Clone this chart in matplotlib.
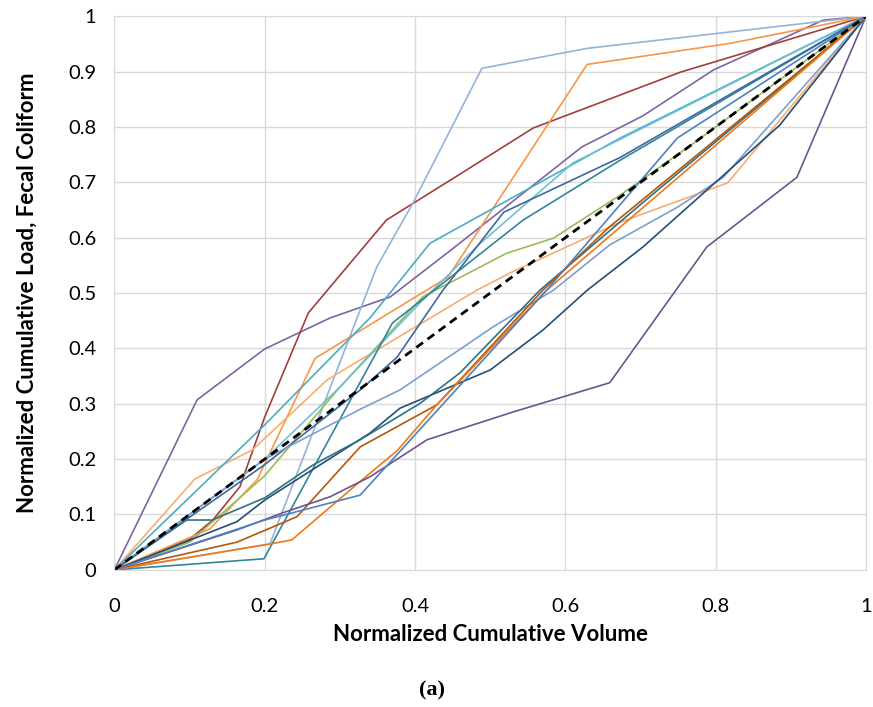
import matplotlib
matplotlib.use("Agg")
import matplotlib.pyplot as plt

plt.rcParams["font.family"] = ["Lato", "DejaVu Sans"]

# normalized cumulative volume / load, one pair per storm event
x_purple_a = [0, 0.11, 0.2, 0.287, 0.367, 0.45, 0.622, 0.703, 0.797, 0.943, 1]
y_purple_a = [0, 0.307, 0.399, 0.455, 0.493, 0.58, 0.764, 0.82, 0.903, 0.993, 1]

x_red = [0, 0.1, 0.131, 0.167, 0.2, 0.258, 0.362, 0.46, 0.557, 0.753, 1]
y_red = [0, 0.055, 0.09, 0.15, 0.276, 0.464, 0.632, 0.715, 0.798, 0.899, 1]

x_lightblue = [0, 0.207, 0.349, 0.397, 0.489, 0.629, 0.802, 1]
y_lightblue = [0, 0.047, 0.547, 0.662, 0.906, 0.942, 0.969, 1]

x_orange_a = [0, 0.127, 0.19, 0.267, 0.444, 0.629, 0.819, 1]
y_orange_a = [0, 0.074, 0.163, 0.382, 0.529, 0.913, 0.951, 1]

x_lightorange = [0, 0.107, 0.184, 0.283, 0.327, 0.482, 0.526, 0.673, 0.816, 1]
y_lightorange = [0, 0.164, 0.217, 0.343, 0.379, 0.505, 0.536, 0.628, 0.699, 1]

x_green = [0, 0.1, 0.2, 0.3, 0.41, 0.522, 0.584, 0.673, 0.77, 1]
y_green = [0, 0.05, 0.17, 0.33, 0.493, 0.572, 0.599, 0.677, 0.77, 1]

x_aqua_a = [0, 0.2, 0.34, 0.42, 0.673, 1]
y_aqua_a = [0, 0.262, 0.455, 0.59, 0.78, 1]

x_aqua_b = [0, 0.1, 0.2, 0.3, 0.41, 0.487, 0.61, 1]
y_aqua_b = [0, 0.1, 0.2, 0.33, 0.487, 0.59, 0.735, 1]

x_teal = [0, 0.199, 0.37, 0.544, 0.673, 1]
y_teal = [0, 0.02, 0.446, 0.632, 0.74, 1]

x_darkblue = [0, 0.2, 0.327, 0.376, 0.437, 0.518, 0.673, 1]
y_darkblue = [0, 0.19, 0.325, 0.384, 0.505, 0.646, 0.745, 1]

x_steelblue = [0, 0.2, 0.327, 0.38, 0.504, 0.584, 0.659, 0.749, 0.81, 1]
y_steelblue = [0, 0.2, 0.29, 0.325, 0.439, 0.505, 0.587, 0.655, 0.709, 1]

x_navy = [0, 0.163, 0.2, 0.34, 0.38, 0.5, 0.57, 0.629, 0.703, 0.885, 1]
y_navy = [0, 0.087, 0.126, 0.247, 0.292, 0.361, 0.433, 0.505, 0.583, 0.803, 1]

x_darkteal = [0, 0.096, 0.13, 0.2, 0.265, 0.327, 0.407, 0.46, 0.566, 0.7, 1]
y_darkteal = [0, 0.09, 0.09, 0.13, 0.19, 0.235, 0.301, 0.356, 0.505, 0.66, 1]

x_brown = [0, 0.163, 0.243, 0.327, 0.429, 0.57, 0.659, 1]
y_brown = [0, 0.05, 0.096, 0.222, 0.298, 0.505, 0.62, 1]

x_orange_b = [0, 0.2, 0.236, 0.329, 0.376, 0.429, 0.575, 1]
y_orange_b = [0, 0.045, 0.054, 0.162, 0.215, 0.298, 0.505, 1]

x_purple_b = [0, 0.163, 0.224, 0.287, 0.34, 0.416, 0.53, 0.659, 0.788, 0.908, 1]
y_purple_b = [0, 0.072, 0.103, 0.132, 0.168, 0.235, 0.285, 0.338, 0.583, 0.709, 1]

x_blue = [0, 0.2, 0.327, 0.575, 0.749, 1]
y_blue = [0, 0.09, 0.135, 0.505, 0.78, 1]

series = [
    (x_purple_a, y_purple_a, "#8064A2"),
    (x_red, y_red, "#A0403D"),
    (x_lightblue, y_lightblue, "#95B3D7"),
    (x_orange_a, y_orange_a, "#F79646"),
    (x_lightorange, y_lightorange, "#F9AC70"),
    (x_green, y_green, "#9BBB59"),
    (x_aqua_a, y_aqua_a, "#4BACC6"),
    (x_aqua_b, y_aqua_b, "#6FC0D4"),
    (x_teal, y_teal, "#31859C"),
    (x_darkblue, y_darkblue, "#3D6A9E"),
    (x_steelblue, y_steelblue, "#7BA0CD"),
    (x_navy, y_navy, "#254E75"),
    (x_darkteal, y_darkteal, "#2E7183"),
    (x_brown, y_brown, "#B65708"),
    (x_orange_b, y_orange_b, "#F07818"),
    (x_purple_b, y_purple_b, "#6B5590"),
    (x_blue, y_blue, "#4F81BD"),
]

fig = plt.figure(figsize=(8.73, 7.07), dpi=100)
ax = fig.add_axes([0.131, 0.194, 0.861, 0.783])

for xs, ys, c in series:
    ax.plot(xs, ys, color=c, lw=1.2)
ax.plot([0, 1], [0, 1], color="black", lw=2, ls=(0, (3, 2)))

ax.set_xlim(0, 1)
ax.set_ylim(0, 1)
ax.set_xticks([0, 0.2, 0.4, 0.6, 0.8, 1])
ax.set_xticklabels(["0", "0.2", "0.4", "0.6", "0.8", "1"])
ax.set_yticks([i / 10 for i in range(11)])
ax.set_yticklabels(["0"] + ["0.%d" % i for i in range(1, 10)] + ["1"])
ax.grid(True, color="#D9D9D9", lw=1)
ax.set_axisbelow(True)
for s in ax.spines.values():
    s.set_color("#D9D9D9")
ax.tick_params(length=0, labelsize=14.5)
ax.tick_params(axis="x", pad=20)
ax.tick_params(axis="y", pad=13)

ax.set_xlabel("Normalized Cumulative Volume", fontsize=16, fontweight="bold", labelpad=7)
ax.set_ylabel("Normalized Cumulative Load, Fecal Coliform", fontsize=16, fontweight="bold", labelpad=22)

fig.text(0.495, 0.024, "(a)", ha="center", va="center", fontsize=16, fontweight="bold",
         family=["Liberation Serif", "DejaVu Serif"])

fig.savefig("out.png", dpi=100)
